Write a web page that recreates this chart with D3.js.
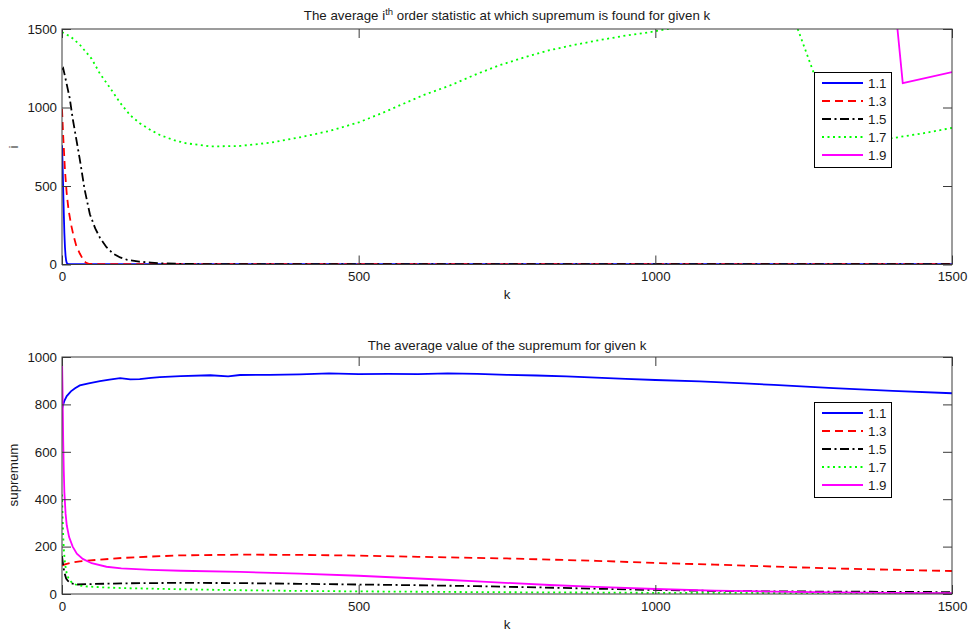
<!DOCTYPE html>
<html>
<head>
<meta charset="utf-8">
<script src="https://cdn.jsdelivr.net/npm/d3@7"></script>
<style>
body { margin: 0; background: #fff; }
svg text { font-family: "Liberation Sans", Arial, sans-serif; fill: #1a1a1a; }
</style>
</head>
<body>
<svg id="chart" width="969" height="633"></svg>
<script>
// series labels (legend)
var seriesNames = ["1.1", "1.3", "1.5", "1.7", "1.9"];

// top panel: average i-th order statistic, [k, i]
var top11 = [[0,760],[1,640],[2,480],[3,330],[4,200],[5,110],[6,55],[7,25],[8,10],[10,4],[20,2],[1500,2]];
var top13 = [[0,990],[2,820],[5,600],[8,450],[11,350],[15,260],[19,190],[24,120],[30,70],[35,35],[40,12],[45,4],[60,2],[1500,2]];
var top15 = [[0,1240],[2,1250],[5,1200],[9,1130],[13,1060],[18,930],[24,800],[30,670],[38,480],[47,320],[56,230],[64,170],[75,110],[86,70],[98,45],[110,30],[130,18],[150,12],[170,7],[200,4],[250,2],[1500,2]];
var top17 = [[0,1480],[15,1450],[30,1400],[50,1310],[64,1215],[80,1130],[98,1030],[115,950],[131,900],[150,855],[165,825],[190,790],[210,772],[250,752],[300,755],[350,775],[401,810],[450,850],[500,905],[540,965],[570,1015],[610,1080],[654,1140],[700,1215],[738,1270],[780,1320],[822,1365],[865,1400],[907,1430],[950,1458],[991,1480],[1020,1500],[1060,1520],[1120,1540],[1180,1540],[1220,1525],[1240,1500],[1266,1230],[1290,1000],[1310,850],[1330,790],[1360,785],[1400,805],[1450,835],[1500,870]];
var top19 = [[0,1490],[2,1800],[10,2200],[1390,2200],[1417,1155],[1500,1226]];

// bottom panel: average supremum, [k, value]
var bot11 = [[0,780],[2,800],[4,815],[8,835],[15,855],[22,868],[30,880],[45,889],[64,898],[80,905],[98,911],[115,906],[131,907],[150,912],[165,915],[200,919],[250,923],[280,918],[300,924],[350,925],[401,927],[450,931],[500,928],[550,929],[600,928],[650,931],[700,929],[750,925],[800,922],[850,918],[900,913],[950,908],[1000,903],[1075,897],[1150,889],[1200,882],[1300,869],[1400,857],[1500,847]];
var bot13 = [[0,120],[5,125],[15,132],[30,138],[64,145],[100,152],[150,158],[200,163],[300,166],[401,165],[500,162],[600,157],[750,150],[900,140],[1000,131],[1100,124],[1244,112],[1350,105],[1500,97]];
var bot15 = [[0,160],[2,120],[4,90],[7,65],[10,55],[15,45],[25,40],[50,42],[100,45],[200,47],[300,46],[400,43],[500,40],[600,37],[700,33],[800,28],[907,22],[1000,17],[1100,13],[1200,11],[1300,10],[1400,9],[1500,8]];
var bot17 = [[0,420],[1,330],[2,250],[3,190],[5,130],[8,85],[12,60],[18,45],[25,38],[40,32],[70,28],[100,25],[200,20],[300,16],[400,13],[500,11],[700,8],[1000,5],[1500,3]];
var bot19 = [[0,1000],[1,850],[2,650],[3,520],[4,430],[6,340],[8,290],[12,240],[18,200],[25,170],[35,148],[50,130],[75,115],[100,108],[150,102],[200,98],[300,93],[401,86],[500,77],[654,59],[700,53],[822,38],[900,30],[1000,21],[1100,14],[1200,10],[1300,7],[1400,5],[1500,4]];

var xTicks = [0, 500, 1000, 1500];
var topYTicks = [0, 500, 1000, 1500];
var botYTicks = [0, 200, 400, 600, 800, 1000];

var colors = ["#0000ff", "#ff0000", "#000000", "#00ff00", "#ff00ff"];
var dashes = [null, "8,5", "9,3.5,2,3.5", "2,3.5", null];

var svg = d3.select("#chart");
var fs = "13.3px";

var panels = [
    {
        id: "top", top: 29, bottom: 264.5, ymax: 1500, yTicks: topYTicks,
        series: [top11, top13, top15, top17, top19],
        ylabel: "i", ylabelY: 147, xlabelY: 299, legendTop: 72
    },
    {
        id: "bot", top: 357, bottom: 594, ymax: 1000, yTicks: botYTicks,
        series: [bot11, bot13, bot15, bot17, bot19],
        ylabel: "supremum", ylabelY: 475, xlabelY: 629, legendTop: 402
    }
];

var left = 62, right = 952;

panels.forEach(function(p) {
    var x = d3.scaleLinear().domain([0, 1500]).range([left, right]);
    var y = d3.scaleLinear().domain([0, p.ymax]).range([p.bottom, p.top]);

    svg.append("clipPath").attr("id", "clip-" + p.id)
        .append("rect")
        .attr("x", left).attr("y", p.top)
        .attr("width", right - left).attr("height", p.bottom - p.top);

    var line = d3.line()
        .x(function(d) { return x(d[0]); })
        .y(function(d) { return y(d[1]); });

    var g = svg.append("g").attr("clip-path", "url(#clip-" + p.id + ")");
    p.series.forEach(function(s, i) {
        g.append("path")
            .datum(s)
            .attr("d", line)
            .attr("fill", "none")
            .attr("stroke", colors[i])
            .attr("stroke-width", 1.8)
            .attr("stroke-dasharray", dashes[i]);
    });

    // axes, ticks inside like matlab
    var tl = 9;
    svg.append("g")
        .attr("transform", "translate(0," + p.bottom + ")")
        .call(d3.axisBottom(x).tickValues(xTicks).tickSizeInner(-tl).tickSizeOuter(0).tickPadding(7.5).tickFormat(d3.format("d")))
        .call(styleAxis);
    svg.append("g")
        .attr("transform", "translate(0," + p.top + ")")
        .call(d3.axisTop(x).tickValues(xTicks).tickSizeInner(-tl).tickSizeOuter(0).tickFormat(""))
        .call(styleAxis);
    svg.append("g")
        .attr("transform", "translate(" + left + ",0)")
        .call(d3.axisLeft(y).tickValues(p.yTicks).tickSizeInner(-tl).tickSizeOuter(0).tickPadding(5).tickFormat(d3.format("d")))
        .call(styleAxis);
    svg.append("g")
        .attr("transform", "translate(" + right + ",0)")
        .call(d3.axisRight(y).tickValues(p.yTicks).tickSizeInner(-tl).tickSizeOuter(0).tickFormat(""))
        .call(styleAxis);

    svg.append("rect")
        .attr("x", left).attr("y", p.top)
        .attr("width", right - left).attr("height", p.bottom - p.top)
        .attr("fill", "none").attr("stroke", "#3a3a3a").attr("stroke-width", 1);

    // axis labels
    svg.append("text")
        .attr("x", (left + right) / 2).attr("y", p.xlabelY)
        .attr("text-anchor", "middle").style("font-size", fs)
        .text("k");
    svg.append("text")
        .attr("transform", "translate(18," + p.ylabelY + ") rotate(-90)")
        .attr("text-anchor", "middle").style("font-size", fs)
        .text(p.ylabel);

    // legend
    var lg = svg.append("g").attr("transform", "translate(814," + p.legendTop + ")");
    lg.append("rect")
        .attr("x", 0.5).attr("y", 0.5).attr("width", 77).attr("height", 95)
        .attr("fill", "#fff").attr("stroke", "#000").attr("stroke-width", 1);
    seriesNames.forEach(function(n, i) {
        var yy = 11 + i * 18;
        lg.append("line")
            .attr("x1", 8).attr("x2", 49).attr("y1", yy).attr("y2", yy)
            .attr("stroke", colors[i]).attr("stroke-width", 1.8)
            .attr("stroke-dasharray", dashes[i]);
        lg.append("text")
            .attr("x", 54).attr("y", yy + 5)
            .style("font-size", fs)
            .text(n);
    });
});

function styleAxis(sel) {
    sel.select(".domain").remove();
    sel.selectAll(".tick line").attr("stroke", "#3a3a3a");
    sel.selectAll(".tick text")
        .style("font-size", fs)
        .style("font-family", "'Liberation Sans', Arial, sans-serif")
        .attr("fill", "#1a1a1a");
}

// titles
var t1 = svg.append("text")
    .attr("x", (left + right) / 2).attr("y", 20)
    .attr("text-anchor", "middle").style("font-size", fs);
t1.append("tspan").text("The average i");
t1.append("tspan").attr("dy", -5).style("font-size", "9.5px").text("th");
t1.append("tspan").attr("dy", 5).text(" order statistic at which supremum is found for given k");

svg.append("text")
    .attr("x", (left + right) / 2).attr("y", 350)
    .attr("text-anchor", "middle").style("font-size", fs)
    .text("The average value of the supremum for given k");
</script>
</body>
</html>
